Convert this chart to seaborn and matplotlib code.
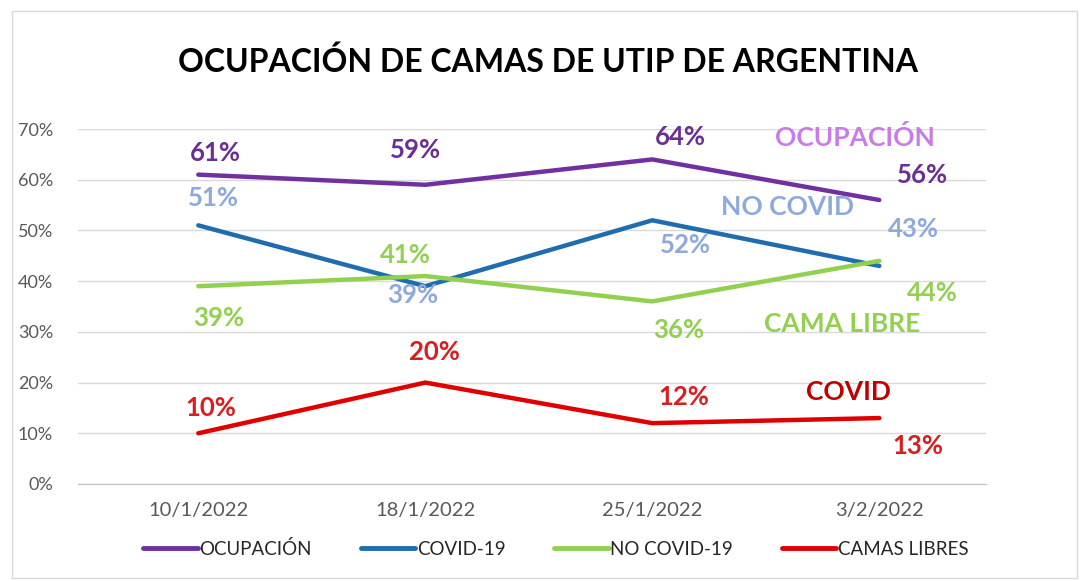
import numpy as np
import pandas as pd
import matplotlib
matplotlib.use("Agg")
import matplotlib.pyplot as plt
import seaborn as sns
from matplotlib.lines import Line2D
from matplotlib.patches import Rectangle

# datos (fraccion de camas)
fechas = ["10/1/2022", "18/1/2022", "25/1/2022", "3/2/2022"]
ocupacion = [0.61, 0.59, 0.64, 0.56]
covid = [0.51, 0.39, 0.52, 0.43]
no_covid = [0.39, 0.41, 0.36, 0.44]
camas_libres = [0.10, 0.20, 0.12, 0.13]
series = ["OCUPACIÓN", "COVID-19", "NO COVID-19", "CAMAS LIBRES"]

colores_linea = ["#7030A0", "#1F6CAE", "#92D050", "#E00000"]
colores_etiqueta = ["#6A2F93", "#8EA9DB", "#92D050", "#D81E1E"]

# offsets de etiquetas (pixeles)
offsets = [
    [(17, 22), (-10, 35), (28, 22), (43, 25)],
    [(15, 27), (-13, -9), (33, -25), (34, 37)],
    [(20, -32), (-20, 21), (26, -29), (53, -32)],
    [(12, 25), (9, 31), (31, 26), (39, -28)],
]

filas = []
for nombre, vals in zip(series, [ocupacion, covid, no_covid, camas_libres]):
    for i, v in enumerate(vals):
        filas.append({"x": i, "valor": v, "serie": nombre})
df = pd.DataFrame(filas)

sns.set_style("white")
plt.rcParams["font.family"] = ["Lato", "DejaVu Sans"]

W, H = 1081, 581
fig = plt.figure(figsize=(W / 100, H / 100), dpi=100)
ax = fig.add_axes([78 / W, 1 - 484 / H, (986 - 78) / W, (484 - 129) / H])

sns.lineplot(data=df, x="x", y="valor", hue="serie", hue_order=series,
             palette=colores_linea, linewidth=3.2, ax=ax, legend=False,
             solid_capstyle="round")

ax.set_xlim(-0.53, 3.47)
ax.set_ylim(0, 0.70)
ticks_y = np.arange(0, 0.71, 0.1)
ax.set_yticks(ticks_y)
ax.set_yticklabels([f"{int(round(t * 100))}%" for t in ticks_y])
ax.set_xticks(range(4))
ax.set_xticklabels(fechas)
ax.set_xticks([-0.53, 0.5, 1.5, 2.5, 3.47], minor=True)
ax.tick_params(axis="x", which="major", length=0, pad=13, labelsize=14.5, colors="#595959")
ax.tick_params(axis="x", which="minor", length=6, color="#BFBFBF", direction="out")
ax.tick_params(axis="y", length=0, pad=18, labelsize=13, colors="#595959")
ax.grid(axis="y", color="#D9D9D9", linewidth=1)
ax.set_axisbelow(True)
ax.set_xlabel("")
ax.set_ylabel("")
for s in ["top", "right", "left"]:
    ax.spines[s].set_visible(False)
ax.spines["bottom"].set_color("#BFBFBF")

# etiquetas de datos
for k, vals in enumerate([ocupacion, covid, no_covid, camas_libres]):
    for i, v in enumerate(vals):
        ax.annotate(f"{int(round(v * 100))}%", (i, v), xytext=offsets[k][i],
                    textcoords="offset pixels", ha="center", va="center",
                    fontsize=18.5, fontweight="bold", color=colores_etiqueta[k])

# textos libres
fig.text(855 / W, 1 - 137 / H, "OCUPACIÓN", ha="center", va="center",
         fontsize=19, fontweight="bold", color="#C97BE8")
fig.text(788 / W, 1 - 207 / H, "NO COVID", ha="center", va="center",
         fontsize=19, fontweight="bold", color="#8EA9DB")
fig.text(842 / W, 1 - 324 / H, "CAMA LIBRE", ha="center", va="center",
         fontsize=19, fontweight="bold", color="#92D050")
fig.text(848 / W, 1 - 392 / H, "COVID", ha="center", va="center",
         fontsize=19, fontweight="bold", color="#C00000")

fig.text(548 / W, 1 - 62 / H, "OCUPACIÓN DE CAMAS DE UTIP DE ARGENTINA",
         ha="center", va="center", fontsize=23, fontweight="bold", color="black")

# leyenda
handles = [Line2D([0], [0], color=c, linewidth=3.5, solid_capstyle="round")
           for c in colores_linea]
fig.legend(handles, series, loc="center", bbox_to_anchor=(556 / W, 1 - 549 / H),
           ncol=4, frameon=False, fontsize=13.5, handlelength=2.9,
           handletextpad=0.1, columnspacing=2.6, labelcolor="#262626")

fig.patches.append(Rectangle((12 / W, 3 / H), (W - 16) / W, (H - 14) / H,
                             transform=fig.transFigure, fill=False,
                             edgecolor="#D9D9D9", linewidth=1))

fig.savefig("out.png", dpi=100)
